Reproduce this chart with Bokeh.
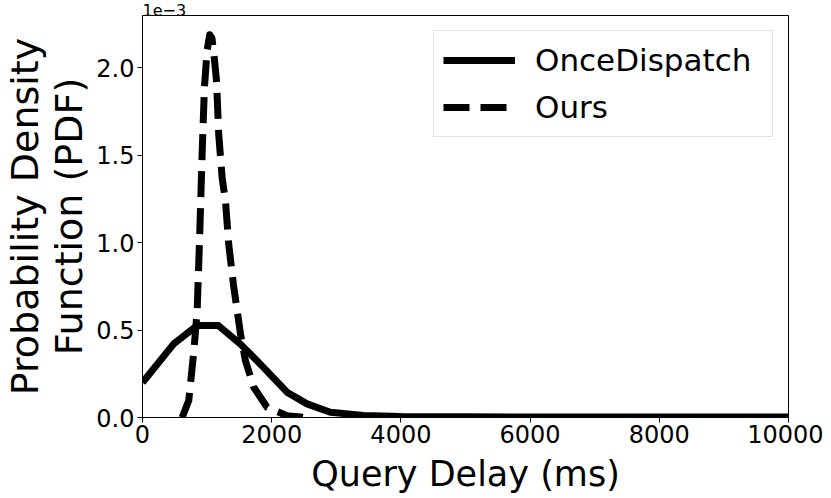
import numpy as np
from bokeh.plotting import figure
from bokeh.models import (Range1d, FixedTicker, CustomJSTickFormatter,
                          Legend, LegendItem, Title)
from bokeh.embed import file_html
from bokeh.resources import INLINE

# ---- data (y values in units of 1e-3) ----
once_x = [0, 480, 846, 1176, 1516, 1872, 2237, 2547, 2908, 3420, 4000, 5000,
          6000, 7000, 8000, 9000, 10000]
once_y = [0.20, 0.42, 0.526, 0.526, 0.42, 0.287, 0.145, 0.078, 0.030, 0.012,
          0.006, 0.004, 0.003, 0.003, 0.003, 0.003, 0.003]

ours_x = [614, 716, 795, 846, 886, 923, 959, 1000, 1040, 1075, 1110, 1145,
          1180, 1233, 1284, 1335, 1408, 1516, 1593, 1722, 1928, 2237, 2521]
ours_y = [0.0, 0.097, 0.38, 0.61, 1.05, 1.51, 1.89, 2.10, 2.19, 2.17, 2.06,
          1.93, 1.62, 1.37, 1.24, 0.99, 0.76, 0.48, 0.326, 0.173, 0.059, 0.010,
          0.0]

x_ticks = [0, 2000, 4000, 6000, 8000, 10000]
y_ticks = [0.0, 0.5, 1.0, 1.5, 2.0]
scale = 1e-3

FONT = "DejaVu Sans"

p = figure(width=823, height=498, output_backend="svg", toolbar_location=None,
           x_range=Range1d(0, 10000), y_range=Range1d(0, 2.3 * scale),
           min_border_left=134, min_border_top=15, min_border_right=35,
           min_border_bottom=81)
p.background_fill_color = "white"
p.border_fill_color = "white"
p.outline_line_color = "black"
p.outline_line_width = 1
p.xgrid.visible = False
p.ygrid.visible = False

p.title = Title(text="1e\u22123", align="left", text_font=FONT,
                text_font_size="16px", text_font_style="normal",
                text_color="black", standoff=0, offset=0,
                text_line_height=0.9)

r1 = p.line(once_x, np.array(once_y) * scale, line_color="black", line_width=7,
            line_join="round")
r2 = p.line(ours_x, np.array(ours_y) * scale, line_color="black", line_width=7,
            line_dash="26 11", line_join="round")

p.xaxis.ticker = FixedTicker(ticks=x_ticks)
p.yaxis.ticker = FixedTicker(ticks=[t * scale for t in y_ticks])
p.yaxis.formatter = CustomJSTickFormatter(code="return (tick*1000).toFixed(1);")

for ax in (p.xaxis[0], p.yaxis[0]):
    ax.axis_line_color = "black"
    ax.major_tick_line_color = "black"
    ax.major_tick_out = 5
    ax.major_tick_in = 0
    ax.minor_tick_line_color = None
    ax.major_label_text_font = FONT
    ax.major_label_text_font_size = "24px"
    ax.major_label_text_color = "black"
    ax.axis_label_text_font = FONT
    ax.axis_label_text_font_style = "normal"
    ax.axis_label_text_color = "black"

p.xaxis.axis_label = "Query Delay (ms)"
p.xaxis.axis_label_text_font_size = "35px"
p.xaxis.axis_label_text_line_height = 1.0
p.xaxis.major_label_standoff = 2
p.xaxis.axis_label_standoff = 8

p.yaxis.axis_label = "Probability Density\nFunction (PDF)"
p.yaxis.axis_label_text_font_size = "38px"
p.yaxis.axis_label_text_line_height = 1.0
p.yaxis.major_label_standoff = 3
p.yaxis.axis_label_standoff = 2

legend = Legend(items=[LegendItem(label="OnceDispatch", renderers=[r1]),
                       LegendItem(label="Ours", renderers=[r2])],
                location="top_right")
legend.margin = 15
legend.padding = 9
legend.spacing = 7
legend.glyph_width = 72
legend.glyph_height = 40
legend.label_height = 40
legend.label_width = 228
legend.label_standoff = 20
legend.label_text_font = FONT
legend.label_text_font_size = "31px"
legend.label_text_color = "black"
legend.border_line_color = "#cccccc"
legend.border_line_width = 1
legend.background_fill_alpha = 0.8
p.add_layout(legend)

open("out.html", "w").write(file_html(p, INLINE))
